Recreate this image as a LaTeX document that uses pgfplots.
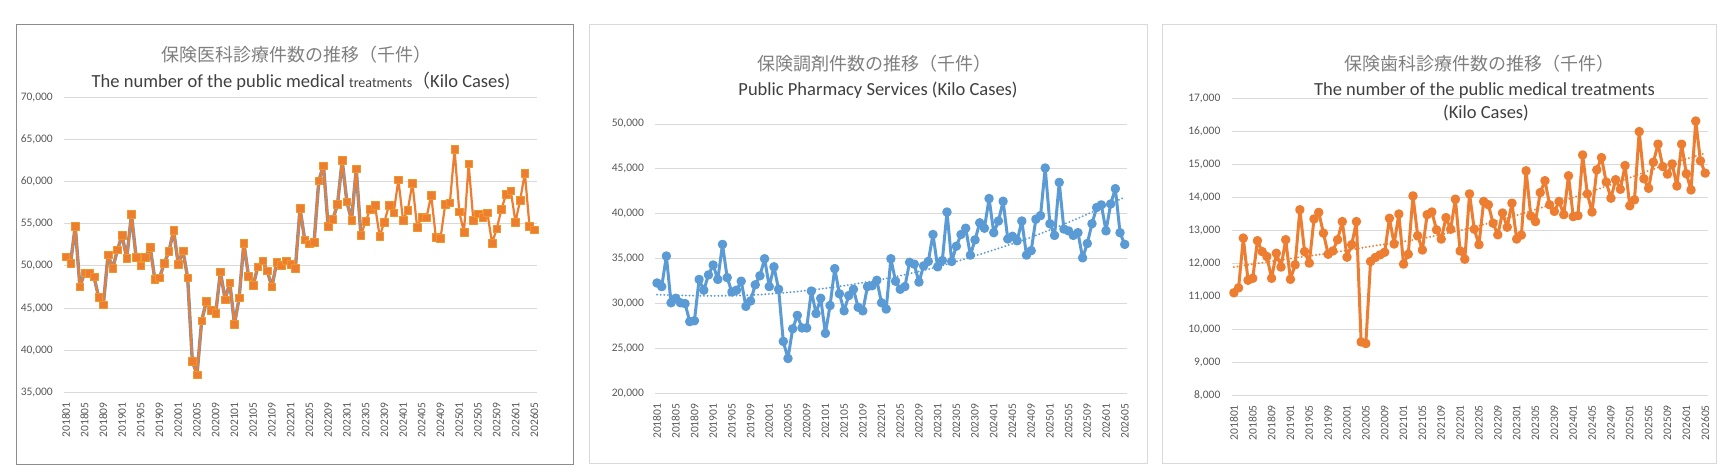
\documentclass[border=0pt]{standalone}
\usepackage{pgfplots}
\usepackage{pgfplotstable}
\pgfplotsset{compat=1.18}
\usepackage{fontspec}
\setmainfont{Carlito}
\newfontfamily\jp{Noto Sans CJK JP}
\definecolor{xlblue}{HTML}{5B9BD5}
\definecolor{xlorange}{HTML}{ED7D31}
\definecolor{gridc}{HTML}{D9D9D9}
\definecolor{tickc}{HTML}{595959}
\definecolor{titlec}{HTML}{7F7F7F}
\definecolor{subc}{HTML}{404040}
\definecolor{frameA}{HTML}{8C8C8C}
\definecolor{frameB}{HTML}{D9D9D9}

% Panel 1: medical treatments (kilo cases), 201801..202605
\pgfplotstableread[row sep=\\]{x y\\
0 51100\\1 50300\\2 54700\\3 47500\\4 49200\\5 49100\\6 48700\\7 46300\\8 45400\\9 51300\\
10 49700\\11 51900\\12 53600\\13 50900\\14 56100\\15 51000\\16 50000\\17 51000\\18 52200\\19 48400\\
20 48600\\21 50300\\22 51700\\23 54200\\24 50200\\25 51800\\26 48600\\27 38700\\28 37100\\29 43500\\
30 45800\\31 44700\\32 44400\\33 49300\\34 46000\\35 48000\\36 43100\\37 46200\\38 52700\\39 48800\\
40 47700\\41 49900\\42 50600\\43 49400\\44 47500\\45 50400\\46 50100\\47 50600\\48 50200\\49 49700\\
50 56800\\51 53100\\52 52600\\53 52800\\54 60100\\55 61900\\56 54700\\57 55500\\58 57300\\59 62500\\
60 57600\\61 55400\\62 61500\\63 53600\\64 55300\\65 56700\\66 57200\\67 53500\\68 55200\\69 57200\\
70 56300\\71 60200\\72 55400\\73 56600\\74 59800\\75 54600\\76 55800\\77 55700\\78 58400\\79 53400\\
80 53300\\81 57300\\82 57500\\83 63800\\84 56400\\85 54000\\86 62100\\87 55400\\88 56200\\89 55800\\
90 56300\\91 52700\\92 54400\\93 56700\\94 58500\\95 58900\\96 55200\\97 57800\\98 61000\\99 54700\\
100 54300\\}\tabA

% Panel 2: pharmacy services
\pgfplotstableread[row sep=\\]{x y\\
0 32300\\1 31900\\2 35300\\3 30100\\4 30600\\5 30100\\6 30000\\7 28000\\8 28100\\9 32700\\
10 31500\\11 33200\\12 34300\\13 32700\\14 36600\\15 32900\\16 31300\\17 31500\\18 32500\\19 29700\\
20 30300\\21 32100\\22 33100\\23 35000\\24 31900\\25 34100\\26 31600\\27 25800\\28 23900\\29 27200\\
30 28700\\31 27300\\32 27300\\33 31400\\34 28900\\35 30600\\36 26700\\37 29800\\38 33900\\39 31100\\
40 29200\\41 30900\\42 31600\\43 29600\\44 29200\\45 31900\\46 32000\\47 32600\\48 30100\\49 29400\\
50 35000\\51 32500\\52 31600\\53 31900\\54 34600\\55 34400\\56 32400\\57 34200\\58 34700\\59 37700\\
60 34100\\61 34800\\62 40200\\63 34700\\64 36400\\65 37700\\66 38400\\67 35400\\68 37100\\69 39000\\
70 38400\\71 41700\\72 37900\\73 39200\\74 41400\\75 37200\\76 37500\\77 37000\\78 39200\\79 35400\\
80 35900\\81 39400\\82 39800\\83 45100\\84 38900\\85 37600\\86 43500\\87 38300\\88 38100\\89 37600\\
90 37900\\91 35100\\92 36700\\93 38900\\94 40700\\95 41000\\96 38100\\97 41100\\98 42800\\99 37900\\
100 36600\\}\tabB

\pgfplotstableread[row sep=\\]{x y\\
0 31000\\10 30870\\20 30950\\30 31350\\40 32000\\50 32900\\60 34100\\70 35650\\80 37400\\90 39500\\100 41850\\}\trendB

% Panel 3: dental treatments
\pgfplotstableread[row sep=\\]{x y\\
0 11100\\1 11250\\2 12760\\3 11480\\4 11540\\5 12680\\6 12350\\7 12200\\8 11540\\9 12300\\
10 11880\\11 12710\\12 11510\\13 11950\\14 13620\\15 12350\\16 12000\\17 13340\\18 13540\\19 12910\\
20 12270\\21 12370\\22 12710\\23 13260\\24 12180\\25 12560\\26 13260\\27 9610\\28 9560\\29 12050\\
30 12170\\31 12250\\32 12330\\33 13360\\34 12580\\35 13490\\36 11970\\37 12270\\38 14040\\39 12830\\
40 12400\\41 13470\\42 13550\\43 13010\\44 12730\\45 13380\\46 13030\\47 13940\\48 12370\\49 12120\\
50 14100\\51 13030\\52 12560\\53 13870\\54 13770\\55 13210\\56 12860\\57 13520\\58 13090\\59 13820\\
60 12730\\61 12850\\62 14800\\63 13430\\64 13260\\65 14140\\66 14500\\67 13770\\68 13570\\69 13870\\
70 13470\\71 14650\\72 13410\\73 13440\\74 15280\\75 14100\\76 13550\\77 14830\\78 15200\\79 14460\\
80 13970\\81 14530\\82 14240\\83 14960\\84 13740\\85 13920\\86 15990\\87 14560\\88 14270\\89 15060\\
90 15610\\91 14930\\92 14700\\93 15010\\94 14340\\95 15610\\96 14710\\97 14220\\98 16310\\99 15100\\
100 14730\\}\tabC

\pgfplotstableread[row sep=\\]{x y\\
0 11880\\10 12100\\20 12300\\30 12530\\40 12750\\50 13060\\60 13450\\70 13900\\80 14380\\90 14900\\100 15330\\}\trendC

\pgfplotsset{
  excel/.style={
    scale only axis,
    clip=false,
    axis line style={draw=none},
    major tick length=0pt,
    ymajorgrids,
    grid style={gridc, line width=0.9bp},
    scaled y ticks=false,
    /pgf/number format/assume math mode=true,
    /pgf/number format/1000 sep={,},
    xtick={0,4,...,100},
    xticklabels={201801,201805,201809,201901,201905,201909,202001,202005,202009,202101,202105,202109,202201,202205,202209,202301,202305,202309,202401,202405,202409,202501,202505,202509,202601,202605},
    xticklabel style={rotate=90, anchor=east, inner sep=0pt, text=tickc, font=\fontsize{11.5bp}{12bp}\selectfont},
    xticklabel shift=10bp,
    yticklabel style={anchor=east, inner sep=0pt, text=tickc, font=\fontsize{11.5bp}{12bp}\selectfont},
    yticklabel shift=11bp,
    every axis plot/.append style={line join=round, line cap=round},
  },
  trend/.style={line width=2.1bp, smooth, no marks, line cap=round, dash pattern=on 0.01bp off 3.6bp},
}

\begin{document}
\begin{tikzpicture}[x=1bp,y=1bp]
\useasboundingbox (0,0) rectangle (1727,476);
\fill[white] (0,0) rectangle (1727,476);
% frames
\draw[frameA, line width=1bp] (16,11.7) rectangle (573.3,451);
\draw[frameB, line width=1bp] (589.3,12.7) rectangle (1147,451);
\draw[frameB, line width=1bp] (1162,12.7) rectangle (1716.7,451);

% ---------- Panel 1 ----------
\begin{axis}[excel, at={(64bp,83.7bp)}, anchor=south west,
  width=473bp, height=295bp,
  xmin=-0.4, xmax=100.6, ymin=35000, ymax=70000,
  ytick={35000,40000,...,70000}]
\addplot[xlblue, line width=3.4bp, no marks, restrict x to domain=0:63] table {\tabA};
\addplot[xlorange, line width=2.2bp, mark=square*, mark size=3.8bp,
  mark options={fill=xlorange, draw=xlorange!80!yellow, line width=0.5bp}] table {\tabA};
\end{axis}
\node[anchor=base, text=titlec, font=\jp\fontsize{18bp}{20bp}\selectfont] at (296,414.2) {保険医科診療件数の推移（千件）};
\node[anchor=base, text=subc, font=\fontsize{18.5bp}{20bp}\selectfont] at (301,388.3)
  {The number of the public medical {\fontsize{14bp}{16bp}\selectfont treatments}{\jp\fontsize{18bp}{20bp}\selectfont （}Kilo Cases)};

% ---------- Panel 2 ----------
\begin{axis}[excel, at={(655bp,82.5bp)}, anchor=south west,
  width=471.7bp, height=269.5bp,
  xmin=-0.43, xmax=100.43, ymin=20000, ymax=50000,
  ytick={20000,25000,...,50000}]
\addplot[xlblue, trend] table {\trendB};
\addplot[xlblue, line width=3bp, mark=*, mark size=3.2bp,
  mark options={fill=xlblue, draw=xlblue}] table {\tabB};
\end{axis}
\node[anchor=base, text=titlec, font=\jp\fontsize{18bp}{20bp}\selectfont] at (874.5,405.9) {保険調剤件数の推移（千件）};
\node[anchor=base, text=subc, font=\fontsize{18.5bp}{20bp}\selectfont] at (878,380) {Public Pharmacy Services (Kilo Cases)};

% ---------- Panel 3 ----------
\begin{axis}[excel, at={(1231.5bp,81bp)}, anchor=south west,
  width=476bp, height=296.7bp,
  xmin=-0.5, xmax=100.5, ymin=8000, ymax=17000,
  ytick={8000,9000,...,17000}]
\addplot[xlorange, trend] table {\trendC};
\addplot[xlorange, line width=3bp, mark=*, mark size=3.2bp,
  mark options={fill=xlorange, draw=xlorange}] table {\tabC};
\end{axis}
\node[anchor=base, text=titlec, font=\jp\fontsize{18bp}{20bp}\selectfont] at (1479,405.9) {保険歯科診療件数の推移（千件）};
\node[anchor=base, text=subc, font=\fontsize{18.5bp}{20bp}\selectfont] at (1484.5,380.7) {The number of the public medical treatments};
\node[anchor=base, text=subc, font=\fontsize{18.5bp}{20bp}\selectfont] at (1486,357.7) {(Kilo Cases)};
\end{tikzpicture}
\end{document}
